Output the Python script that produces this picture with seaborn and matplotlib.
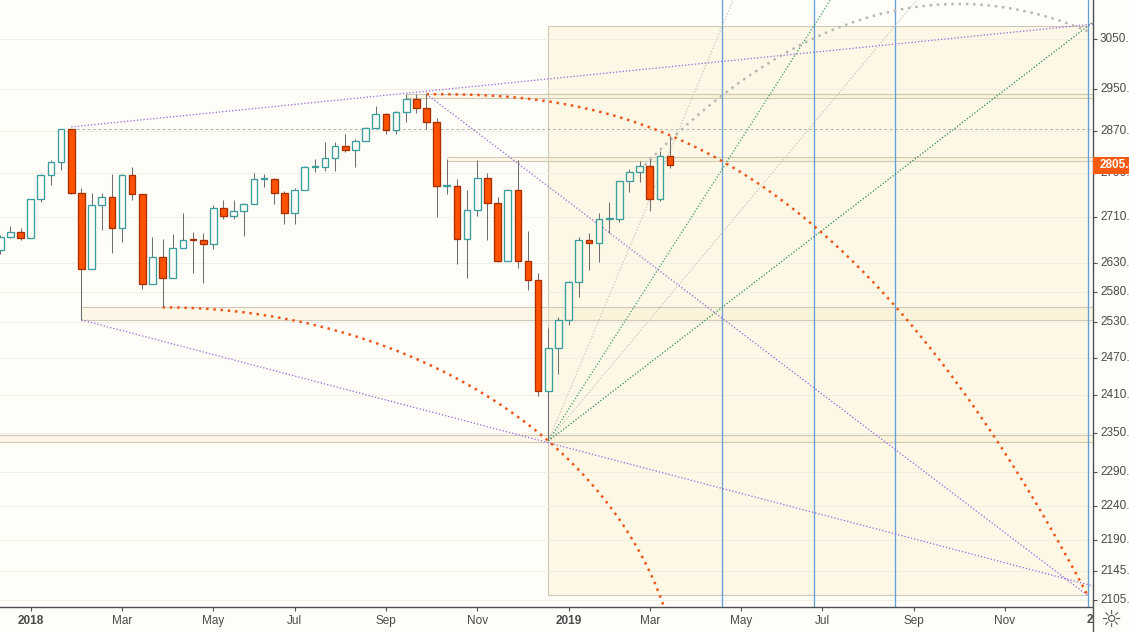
import numpy as np
import pandas as pd
import matplotlib
matplotlib.use("Agg")
import matplotlib.pyplot as plt
import matplotlib.dates as mdates
import matplotlib.transforms as mtransforms
from matplotlib.patches import Rectangle
from matplotlib.lines import Line2D
from matplotlib.ticker import NullLocator
import seaborn as sns

# ---- S&P 500 weekly candles ----
weeks = pd.date_range("2017-12-11", "2019-03-18", freq="W-MON")
opens = [2652.0, 2675.8, 2683.3, 2673.6, 2743.2, 2786.2, 2810.3, 2872.9, 2755.0, 2619.6,
         2732.2, 2747.3, 2691.3, 2786.6, 2752.0, 2593.0, 2640.9, 2604.5, 2656.3, 2670.1,
         2669.9, 2663.4, 2727.7, 2713.0, 2721.3, 2734.6, 2779.0, 2779.4, 2754.9, 2718.4,
         2759.8, 2801.3, 2801.8, 2818.8, 2840.4, 2833.3, 2850.1, 2874.7, 2901.5, 2871.7,
         2905.0, 2929.7, 2914.0, 2885.6, 2767.1, 2767.8, 2671.5, 2723.1, 2781.0, 2736.3,
         2632.6, 2760.2, 2633.1, 2600.0, 2416.6, 2485.7, 2531.9, 2596.3, 2670.7, 2664.8,
         2706.5, 2707.9, 2775.6, 2792.7, 2803.7, 2743.1, 2822.5]
highs = [2679.0, 2694.9, 2692.0, 2743.4, 2789.0, 2815.0, 2872.9, 2872.9, 2763.0, 2754.0,
         2754.0, 2789.0, 2789.0, 2802.0, 2752.0, 2674.8, 2672.0, 2680.0, 2717.5, 2683.6,
         2682.9, 2732.9, 2742.0, 2742.0, 2736.0, 2791.0, 2789.8, 2782.0, 2757.0, 2763.0,
         2804.5, 2816.4, 2848.0, 2848.0, 2863.4, 2855.0, 2876.2, 2916.5, 2903.0, 2908.0,
         2940.9, 2939.9, 2940.0, 2894.8, 2816.9, 2778.9, 2760.0, 2815.2, 2790.0, 2746.8,
         2760.9, 2814.0, 2685.4, 2612.0, 2520.0, 2538.1, 2597.8, 2675.0, 2681.8, 2718.0,
         2738.0, 2775.7, 2797.9, 2813.5, 2816.9, 2830.7, 2860.3]
lows = [2645.0, 2673.0, 2670.0, 2673.6, 2737.6, 2769.6, 2797.0, 2752.0, 2532.7, 2619.6,
        2687.0, 2647.0, 2666.0, 2741.0, 2585.0, 2593.0, 2553.8, 2604.5, 2656.3, 2612.7,
        2594.6, 2655.0, 2707.0, 2707.4, 2676.8, 2734.6, 2765.0, 2735.0, 2699.0, 2698.0,
        2759.8, 2793.4, 2795.0, 2795.0, 2829.6, 2802.5, 2850.1, 2874.7, 2864.0, 2864.0,
        2886.9, 2903.0, 2874.0, 2710.5, 2753.0, 2628.2, 2603.5, 2712.0, 2670.8, 2631.1,
        2632.6, 2621.5, 2583.0, 2408.6, 2340.0, 2444.0, 2524.6, 2572.0, 2617.3, 2631.1,
        2681.8, 2701.7, 2756.3, 2775.1, 2722.3, 2739.5, 2800.5]
closes = [2675.8, 2683.3, 2673.6, 2743.2, 2786.2, 2810.3, 2872.9, 2755.0, 2619.6, 2732.2,
          2747.3, 2691.3, 2786.6, 2752.0, 2593.0, 2640.9, 2604.5, 2656.3, 2670.1, 2669.9,
          2663.4, 2727.7, 2713.0, 2721.3, 2734.6, 2779.0, 2779.4, 2754.9, 2718.4, 2759.8,
          2801.3, 2801.8, 2818.8, 2840.4, 2833.3, 2850.1, 2874.7, 2901.5, 2871.7, 2905.0,
          2929.7, 2914.0, 2885.6, 2767.1, 2767.8, 2671.5, 2723.1, 2781.0, 2736.3, 2632.6,
          2760.2, 2633.1, 2600.0, 2416.6, 2485.7, 2531.9, 2596.3, 2670.7, 2664.8, 2706.5,
          2707.9, 2775.6, 2792.7, 2803.7, 2743.1, 2822.5, 2805.4]
last_label = "2805.40"

price_ticks = [3050, 2950, 2870, 2790, 2710, 2630, 2580, 2530, 2470, 2410,
               2350, 2290, 2240, 2190, 2145, 2105]
time_ticks = ["2018-01-01", "2018-03-05", "2018-05-07", "2018-07-02", "2018-09-03",
              "2018-11-05", "2019-01-07", "2019-03-04", "2019-05-06", "2019-07-01",
              "2019-09-02", "2019-11-04"]
time_labels = ["2018", "Mar", "May", "Jul", "Sep", "Nov", "2019", "Mar", "May", "Jul", "Sep", "Nov"]
cut_tick, cut_label = "2020-01-06", "2020"

# ---- drawing objects (anchors as date, price) ----
box_dates = ("2018-12-24", "2019-12-31")
box_prices = (2111.3, 3075.0)
fan_origin = ("2018-12-24", 2338.0)
fan_targets = ["2019-04-23", "2019-06-25", "2019-08-20", "2019-12-31"]
fan_colors = ["#c6c6bc", "#3f9a66", "#c6c6bc", "#2f8a55"]
cycle_lines = ["2019-04-23", "2019-06-25", "2019-08-20", "2019-12-31"]
top_trend = (("2018-01-29", 2877.0), ("2019-12-31", 3078.0))
low_trend = (("2018-02-05", 2532.7), ("2018-12-24", 2335.4))
drop_trend = (("2018-10-01", 2940.0), ("2019-12-31", 2111.3))
jan_top = ("2018-01-29", 2872.9)
bands = [("2018-09-17", 2932.0, 2941.0),
         ("2018-10-15", 2813.0, 2820.0),
         ("2018-02-05", 2532.7, 2553.8),
         ("2017-12-01", 2336.0, 2347.0)]
upper_arc = (("2018-10-01", 2940.0), ("2019-12-31", 2111.3))
lower_arc = (("2018-04-02", 2553.8), ("2019-03-26", 1955.5))
grey_arc_apex = ("2019-10-03", 3120.4)
grey_arc_start = ("2019-02-25", 2795.6)
grey_arc_end = "2019-12-31"

# ---- style ----
BG = "#fffdf8"
BOX = "#fdf8e6"
RED, RED_EDGE = "#ff5200", "#a83000"
TEAL = "#3a9e9e"
WICK = "#6e6e6e"
PURPLE = "#9b6fe0"
ORANGE = "#f0561a"
GREYDOT = "#b9b9b4"
BLUE = "#62a0d8"
AXIS = "#505050"
TXT = "#4a4a4a"

sns.set_theme(style="white", rc={"axes.facecolor": BG, "figure.facecolor": BG})
plt.rcParams["font.family"] = ["Liberation Sans", "DejaVu Sans"]

W, H = 1129, 632
fig = plt.figure(figsize=(W / 100, H / 100), dpi=100)
ax = fig.add_axes([0, 25 / H, 1093 / W, 607 / H])
ax2 = fig.add_axes([1093 / W, 25 / H, 36 / W, 607 / H])

num = lambda d: mdates.date2num(pd.Timestamp(d))
x_lo = num("2017-12-10 20:40")
x_hi = num("2020-01-03 16:00")
y_lo, y_hi = 2095.2, 3128.6


def line_to(a, b, x_end):
    (d0, p0), (d1, p1) = a, b
    x0, x1 = num(d0), num(d1)
    s = (np.log(p1) - np.log(p0)) / (x1 - x0)
    return [x0, x_end], [p0, np.exp(np.log(p0) + s * (x_end - x0))]


for a in (ax, ax2):
    a.set_yscale("log")
    a.set_ylim(y_lo, y_hi)
    a.yaxis.set_minor_locator(NullLocator())
ax.set_xlim(x_lo, x_hi)

# box and bands
bx0, bx1 = num(box_dates[0]), num(box_dates[1])
ax.add_patch(Rectangle((bx0, box_prices[0]), bx1 - bx0, box_prices[1] - box_prices[0],
                       facecolor=BOX, edgecolor="#cdc8ba", lw=0.8, zorder=0.5))
for start, lo, hi in bands:
    xs0 = max(num(start), x_lo - 5)
    ax.add_patch(Rectangle((xs0, lo), x_hi + 5 - xs0, hi - lo, facecolor="#f8eec8",
                           alpha=0.35, edgecolor="none", zorder=0.6))
    ax.hlines([lo, hi], xs0, x_hi + 5, color="#cfc8b6", lw=0.8, zorder=0.7)

ax.set_yticks(price_ticks)
ax.set_yticklabels([])
ax.tick_params(axis="y", left=False, labelleft=False)
ax.grid(axis="y", color="#f1eee4", lw=0.7)
ax.grid(axis="x", visible=False)
ax.set_axisbelow(True)

ax.hlines(jan_top[1], num(jan_top[0]), x_hi, color="#b4b4b0", lw=0.7, ls=(0, (3, 2.5)), zorder=1)

for d in cycle_lines:
    ax.axvline(num(d), color=BLUE, lw=0.95, zorder=1.2)

# fans
fx0 = num(fan_origin[0])
for d, col in zip(fan_targets, fan_colors):
    x1 = num(d)
    xe, ye = line_to(fan_origin, (d, box_prices[1]), fx0 + 1.4 * (x1 - fx0))
    ax.plot(xe, ye, color=col, lw=0.9, ls=(0, (1, 1.5)), zorder=1.5)

# purple trend lines
dotted = dict(color=PURPLE, lw=0.95, ls=(0, (1, 1.5)), zorder=1.6)
ax.plot(*line_to(*top_trend, x_hi), **dotted)
ax.plot(*line_to(*low_trend, x_hi), **dotted)
ax.plot([num(drop_trend[0][0]), num(drop_trend[1][0])],
        [drop_trend[0][1], drop_trend[1][1]], **dotted)

# arcs
big_dots = dict(lw=1.8, ls=(0, (1, 1.9)), zorder=2)
(ud0, up0), (ud1, up1) = upper_arc
t = np.linspace(0, 1, 400)
ax.plot(num(ud0) + (num(ud1) - num(ud0)) * t,
        np.exp(np.log(up0) + (np.log(up1) - np.log(up0)) * t ** 2.5), color=ORANGE, **big_dots)

(ld0, lp0), (ld1, lp1) = lower_arc
th = np.linspace(0, np.pi / 2, 400)
ax.plot(num(ld0) + (num(ld1) - num(ld0)) * np.sin(th),
        np.exp(np.log(lp0) + (np.log(lp1) - np.log(lp0)) * (1 - np.cos(th))), color=ORANGE, **big_dots)

xa, pa = num(grey_arc_apex[0]), grey_arc_apex[1]
xs_, ps_ = num(grey_arc_start[0]), grey_arc_start[1]
K = (np.log(pa) - np.log(ps_)) / (xs_ - xa) ** 2
gx = np.linspace(xs_, num(grey_arc_end), 400)
ax.plot(gx, np.exp(np.log(pa) - K * (gx - xa) ** 2), color=GREYDOT, **big_dots)

# candles
xs = mdates.date2num(weeks)
o, h, l, c = map(np.array, (opens, highs, lows, closes))
rising = c >= o
bottom = np.minimum(o, c)
height = np.maximum(np.abs(c - o), c * 0.0009)
hollow = np.where(xs >= bx0, BOX, BG)
faces = np.where(rising, hollow, RED)
edges = np.where(rising, TEAL, RED_EDGE)
ax.vlines(xs, l, h, color=WICK, lw=0.75, zorder=3)
ax.bar(xs, height, bottom=bottom, width=4.6, color=faces, edgecolor=edges, linewidth=0.95, zorder=4)

# time axis
sns.despine(ax=ax, left=True, right=True, top=True)
ax.spines["bottom"].set_color(AXIS)
ax.spines["bottom"].set_linewidth(1.0)
ax.set_xticks([num(d) for d in time_ticks])
ax.set_xticklabels(time_labels)
ax.tick_params(axis="x", bottom=True, length=3, width=0.8, color=AXIS, labelsize=8.5,
               labelcolor=TXT, pad=2.5)
for lab in ax.get_xticklabels():
    if lab.get_text().isdigit():
        lab.set_fontweight("bold")
shifted = mtransforms.offset_copy(ax.get_xaxis_transform(), fig=fig, x=3, y=0, units="dots")
ax.text(num(cut_tick), -13 / 607, cut_label, transform=shifted,
        ha="center", va="center", fontsize=8.5, color=TXT, fontweight="bold", clip_on=False)

# price axis
ax2.set_xlim(0, 1)
ax2.set_xticks([])
ax2.set_yticks([])
ax2.set_facecolor(BG)
for side in ("top", "right", "bottom"):
    ax2.spines[side].set_visible(False)
ax2.spines["left"].set_visible(True)
ax2.spines["left"].set_color(AXIS)
ax2.spines["left"].set_linewidth(1.0)
ax2.hlines(price_ticks, 0, 4 / 36, color=AXIS, lw=0.8)
for p in price_ticks:
    ax2.text(7 / 36, p, f"{p:.2f}", va="center", ha="left", fontsize=8.5, color=TXT, clip_on=False)
last = closes[-1]
half = np.exp(8.5 / 1513)
ax2.add_patch(Rectangle((0, last / half), 1.2, last * half - last / half,
                        facecolor="#f55a10", edgecolor="none", zorder=3, clip_on=False))
ax2.text(7 / 36, last, last_label, va="center", ha="left", fontsize=8.5, color="white",
         fontweight="bold", zorder=4, clip_on=False)

# corner under the price axis
fig.add_artist(Rectangle((1093 / W, 0), 36 / W, 25 / H, transform=fig.transFigure,
                         facecolor=BG, edgecolor="none", zorder=5))
fig.add_artist(Line2D([1093 / W, 1093 / W], [0, 25 / H], transform=fig.transFigure,
                      color=AXIS, lw=1.0, zorder=6))
fig.text(1111 / W, 12 / H, "\u263c", ha="center", va="center", fontsize=17, color="#555555",
         family=["DejaVu Sans"], zorder=6)

fig.savefig("out.png", dpi=100, facecolor=BG)
